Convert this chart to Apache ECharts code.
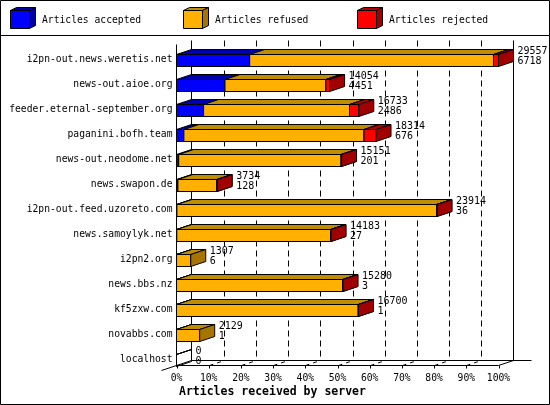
<!DOCTYPE html>
<html><head><meta charset="utf-8">
<script src="https://cdn.jsdelivr.net/npm/echarts@6/dist/echarts.min.js"></script>
<style>html,body{margin:0;padding:0;background:#fff}#c{width:550px;height:405px}</style>
</head><body><div id="c"></div>
<script>
const servers = ['i2pn-out.news.weretis.net','news-out.aioe.org','feeder.eternal-september.org','paganini.bofh.team','news-out.neodome.net','news.swapon.de','i2pn-out.feed.uzoreto.com','news.samoylyk.net','i2pn2.org','news.bbs.nz','kf5zxw.com','novabbs.com','localhost'];
const totals   = [29557, 14054, 16733, 18314, 15151, 3734, 23914, 14183, 1307, 15280, 16700, 2129, 0];
const accepted = [6718, 4451, 2486, 676, 201, 128, 36, 27, 6, 3, 1, 1, 0];
const refused  = [22379, 9263, 13397, 16538, 14910, 3586, 23848, 14131, 1301, 15257, 16684, 2128, 0];
const rejected = [460, 340, 850, 1100, 40, 20, 30, 25, 0, 20, 15, 0, 0];
const seriesNames = ['Articles accepted', 'Articles refused', 'Articles rejected'];
const xTickValues = [0, 10, 20, 30, 40, 50, 60, 70, 80, 90, 100];
const axisTitle = 'Articles received by server';

const colors     = ['#0000ff', '#ffb000', '#ff0000'];
const topColors  = ['#0000b0', '#c08c00', '#b00000'];
const sideColors = ['#0000a0', '#a87400', '#a00000'];
const FONT = 'DejaVu Sans Mono';
const DX = 15, DY = -5, HALF = 6;

const maxTotal = Math.max(...totals);
const pct = v => v / maxTotal * 100;
const parts = [accepted, refused, rejected];

function segData(k) {
  return servers.map((s, i) => {
    let start = 0;
    for (let j = 0; j < k; j++) start += parts[j][i];
    const end = start + parts[k][i];
    return [pct(start), pct(end), i, totals[i] === 0 ? 1 : 0];
  });
}

function st(fill) { return { fill: fill, stroke: '#000', lineWidth: 1 }; }

function makeRender(k) {
  return function (params, api) {
    const s = api.value(0), e = api.value(1), idx = api.value(2), empty = api.value(3);
    if (e - s <= 0 && !(k === 0 && empty)) return null;
    const p0 = api.coord([s, idx]), p1 = api.coord([e, idx]);
    const x0 = p0[0], x1 = p1[0], yc = Math.round(p0[1]) + 0.5;
    const yt = yc - HALF, yb = yc + HALF;
    const fillF = empty ? 'none' : colors[k];
    const fillT = empty ? 'none' : topColors[k];
    const fillS = empty ? 'none' : sideColors[k];
    return { type: 'group', children: [
      { type: 'polygon', shape: { points: [[x0, yt], [x1, yt], [x1, yb], [x0, yb]] }, style: st(fillF) },
      { type: 'polygon', shape: { points: [[x0, yt], [x0 + DX, yt + DY], [x1 + DX, yt + DY], [x1, yt]] }, style: st(fillT) },
      { type: 'polygon', shape: { points: [[x1, yt], [x1 + DX, yt + DY], [x1 + DX, yb + DY], [x1, yb]] }, style: st(fillS) }
    ]};
  };
}

function line(x1, y1, x2, y2, dash) {
  return { type: 'line', shape: { x1, y1, x2, y2 }, style: { stroke: '#000', lineWidth: 1, lineDash: dash || null } };
}

function renderFrame(params, api) {
  const n = servers.length;
  const band = api.size([0, 1])[1];
  const first = api.coord([0, 0]);
  const last = api.coord([100, n - 1]);
  const xL = api.coord([0, 0])[0], xR = last[0];
  const gridTop = Math.round(first[1] - band / 2);
  const floorF = Math.round(last[1]) + 0.5 + 5;
  const floorB = floorF + DY;
  const topB = gridTop - 7 + 0.5, topF = gridTop - 3 + 0.5;
  const ch = [];
  xTickValues.forEach(v => {
    const x = Math.round(api.coord([v, 0])[0]) + 0.5;
    if (v > 0 && v < 100) {
      ch.push(line(x + DX, topB, x + DX, floorB, [6, 4]));
      ch.push(line(x, floorF, x + DX, floorB, [4, 4]));
    }
    ch.push(line(x, floorF, x, floorF + 3));
  });
  ch.push(line(xL, topF, xL, floorF));
  ch.push(line(xL + DX, topB, xL + DX, floorB));
  ch.push(line(xR + DX, topB, xR + DX, floorB));
  ch.push(line(xL + DX, floorB, xR + DX + 18, floorB));
  ch.push(line(xL, floorF, xR, floorF));
  ch.push(line(xR, floorF, xR + DX, floorB));
  ch.push(line(xL - DX, floorF - DY, xL + DX, floorB));
  return { type: 'group', children: ch };
}

function renderLabels(params, api) {
  const e = api.value(0), idx = api.value(1);
  const p = api.coord([e, idx]);
  const x = p[0] + DX + 4, yc = Math.round(p[1]) + 0.5;
  return { type: 'group', children: [
    { type: 'text', x: x, y: yc - 9.5, style: { text: String(totals[idx]), font: '10px "' + FONT + '"', fill: '#000', verticalAlign: 'middle', align: 'left' } },
    { type: 'text', x: x, y: yc + 1, style: { text: String(accepted[idx]), font: '10px "' + FONT + '"', fill: '#000', verticalAlign: 'middle', align: 'left' } }
  ]};
}

const labelData = servers.map((s, i) => [pct(accepted[i] + refused[i] + rejected[i]), i]);

// legend drawn as 3D cubes with text
const legendX = [10.5, 183.5, 357.5];
const graphics = [
  { type: 'rect', shape: { x: 0.5, y: 0.5, width: 549, height: 404 }, style: { fill: 'none', stroke: '#000', lineWidth: 1 }, z: 100 },
  { type: 'line', shape: { x1: 0, y1: 35.5, x2: 550, y2: 35.5 }, style: { stroke: '#000', lineWidth: 1 }, z: 100 },
  { type: 'text', x: 179, y: 392, style: { text: axisTitle, font: 'bold 11.5px "' + FONT + '"', fill: '#000', verticalAlign: 'middle' }, z: 100 }
];
seriesNames.forEach((name, k) => {
  const x = legendX[k], y = 10.5, w = 19, h = 18, dx = 6, dy = -3;
  graphics.push({ type: 'polygon', shape: { points: [[x, y], [x + w, y], [x + w, y + h], [x, y + h]] }, style: st(colors[k]), z: 100 });
  graphics.push({ type: 'polygon', shape: { points: [[x, y], [x + dx, y + dy], [x + w + dx, y + dy], [x + w, y]] }, style: st(topColors[k]), z: 100 });
  graphics.push({ type: 'polygon', shape: { points: [[x + w, y], [x + w + dx, y + dy], [x + w + dx, y + h + dy], [x + w, y + h]] }, style: st(sideColors[k]), z: 100 });
  graphics.push({ type: 'text', x: x + w + dx + 6.5, y: 20, style: { text: name, font: '9.7px "' + FONT + '"', fill: '#000', verticalAlign: 'middle' }, z: 100 });
});

const chart = echarts.init(document.getElementById('c'), null, { renderer: 'canvas' });
chart.setOption({
  animation: false,
  backgroundColor: '#fff',
  grid: { left: 176.5, right: 51.5, top: 47, bottom: 33, containLabel: false },
  xAxis: {
    type: 'value', min: 0, max: 100, interval: 10,
    axisLine: { show: false }, axisTick: { show: false }, splitLine: { show: false },
    axisLabel: { formatter: '{value}%', fontFamily: FONT, fontSize: 9.7, color: '#000', margin: 1 }
  },
  yAxis: {
    type: 'category', data: servers, inverse: true,
    axisLine: { show: false }, axisTick: { show: false }, splitLine: { show: false },
    axisLabel: { fontFamily: FONT, fontSize: 9.7, color: '#000', margin: 4 }
  },
  graphic: graphics,
  series: [
    { type: 'custom', name: 'frame', renderItem: renderFrame, data: [[0, 0]], encode: { x: 0, y: 1 }, silent: true, z: 1 },
    { type: 'custom', name: seriesNames[0], renderItem: makeRender(0), data: segData(0), encode: { x: [0, 1], y: 2 }, z: 2 },
    { type: 'custom', name: seriesNames[1], renderItem: makeRender(1), data: segData(1), encode: { x: [0, 1], y: 2 }, z: 3 },
    { type: 'custom', name: seriesNames[2], renderItem: makeRender(2), data: segData(2), encode: { x: [0, 1], y: 2 }, z: 4 },
    { type: 'custom', name: 'labels', renderItem: renderLabels, data: labelData, encode: { x: 0, y: 1 }, z: 5 }
  ]
});
</script></body></html>
